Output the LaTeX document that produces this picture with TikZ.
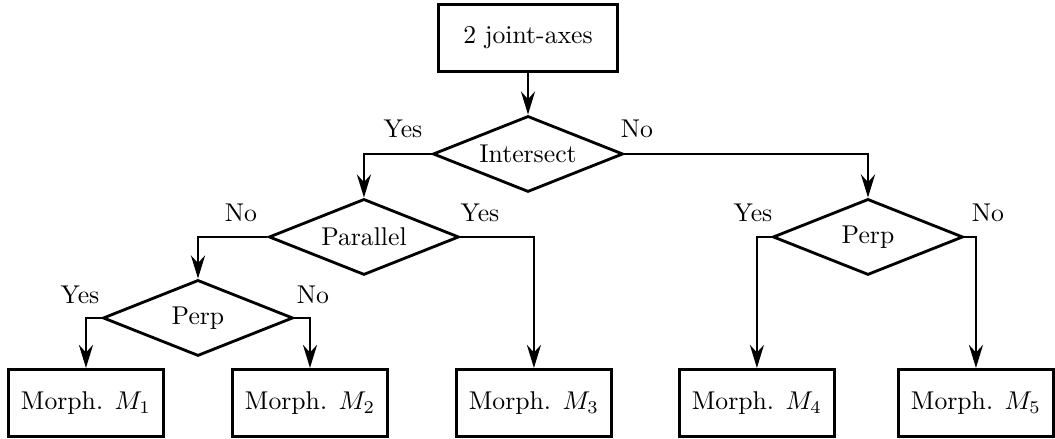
\documentclass[tikz,border=0pt]{standalone}
\usetikzlibrary{shapes.geometric,arrows.meta}
\begin{document}
\begin{tikzpicture}[
    blockbox/.style={draw, line width=1.1pt, minimum width=2.12cm, minimum height=0.92cm},
    decision/.style={draw, diamond, line width=1.1pt, shape aspect=2.5,
      minimum width=2.6cm, minimum height=1.04cm, inner sep=1pt},
    choice/.style={anchor=base, inner sep=0pt}]
  \useasboundingbox (0,0) rectangle (14.43,-6.004);
  \draw
    (7.222,-0.520) node[blockbox, minimum width=2.45cm] (axes){2 joint-axes}
    (7.222,-2.106) node[decision] (inter){Intersect}
    (4.978,-3.241) node[decision] (para){Parallel}
    (2.708,-4.349) node[decision] (perpl){Perp}
    (11.872,-3.241) node[decision] (perpr){Perp}
    (1.176,-5.512) node[blockbox] (m1){Morph. $M_1$}
    (4.240,-5.512) node[blockbox] (m2){Morph. $M_2$}
    (7.303,-5.512) node[blockbox] (m3){Morph. $M_3$}
    (10.353,-5.512) node[blockbox] (m4){Morph. $M_4$}
    (13.349,-5.512) node[blockbox] (m5){Morph. $M_5$};
  % branch labels
  \draw
    (5.512,-1.887) node[choice] (interyes){Yes}
    (8.712,-1.887) node[choice] (interno){No}
    (3.296,-3.036) node[choice] (parano){No}
    (6.565,-3.036) node[choice] (parayes){Yes}
    (1.094,-4.158) node[choice] (perplyes){Yes}
    (4.281,-4.158) node[choice] (perplno){No}
    (10.299,-3.036) node[choice] (perpryes){Yes}
    (13.513,-3.036) node[choice] (perprno){No};
  \begin{scope}[thick, -{Stealth[length=9pt, width=5.5pt, inset=3pt]}]
    \draw (axes) to (inter);
    \draw (inter.west) -| (para);
    \draw (inter.east) -| (perpr);
    \draw (para.west) -| (perpl);
    \draw (para.east) -| (m3);
    \draw (perpl.west) -| (m1);
    \draw (perpl.east) -| (m2);
    \draw (perpr.west) -| (m4);
    \draw (perpr.east) -| (m5);
  \end{scope}
\end{tikzpicture}
\end{document}
